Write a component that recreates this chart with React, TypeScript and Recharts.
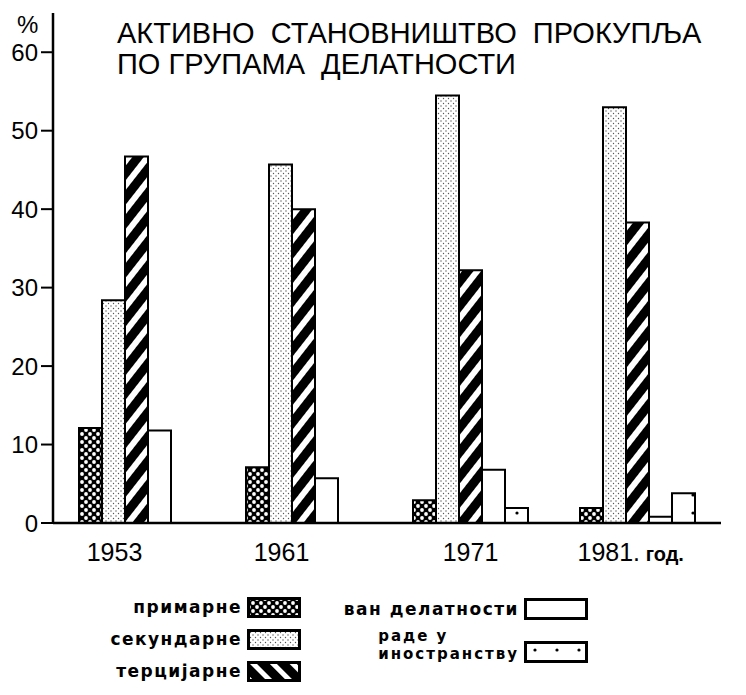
import React from "react";
import { BarChart, Bar, XAxis, YAxis } from "recharts";

// values (percent of active population)
const years = ["1953", "1961", "1971", "1981"];
const yearTickLabels = ["1953", "1961", "1971", "1981."];
const lastYearSuffix = "год.";
const primarne = [12.1, 7.1, 2.9, 1.9];
const sekundarne = [28.4, 45.7, 54.5, 53.0];
const tercijarne = [46.7, 40.0, 32.2, 38.3];
const vanDelatnosti = [11.8, 5.7, 6.8, 0.8];
const radeUInostranstvu: (number | null)[] = [null, null, 1.9, 3.8];
const yTicks = [0, 10, 20, 30, 40, 50, 60];
const seriesNames = [
  "примарне",
  "секундарне",
  "терцијарне",
  "ван делатности",
  "раде у иностранству",
];
const titleLines = ["АКТИВНО  СТАНОВНИШТВО  ПРОКУПЉА", "ПО ГРУПАМА  ДЕЛАТНОСТИ"];

const seriesKeys = ["primarne", "sekundarne", "tercijarne", "van", "rade"];
const seriesFills = [
  "url(#pat-prim)",
  "url(#pat-sek)",
  "url(#pat-ter)",
  "#ffffff",
  "url(#pat-rade)",
];
// the legend key for the tertiary sector has its stripes the other way
const legendFills = [
  "url(#pat-prim)",
  "url(#pat-sek)",
  "url(#pat-ter-legend)",
  "#ffffff",
  "url(#pat-rade)",
];

const chartData = years.map((year, i) => ({
  year,
  primarne: primarne[i],
  sekundarne: sekundarne[i],
  tercijarne: tercijarne[i],
  van: vanDelatnosti[i],
  rade: radeUInostranstvu[i],
}));

const FONT = "Liberation Sans, Arial, sans-serif";
const LEGEND_FONT = "DejaVu Sans, sans-serif";

function Patterns() {
  return (
    <svg width={0} height={0} style={{ position: "absolute" }}>
      <defs>
        <pattern id="pat-prim" width={8} height={8} patternUnits="userSpaceOnUse">
          <rect width={8} height={8} fill="#000" />
          <circle cx={2} cy={2} r={1.9} fill="#fff" />
          <circle cx={6} cy={6} r={1.9} fill="#fff" />
        </pattern>
        <pattern id="pat-sek" width={5} height={5} patternUnits="userSpaceOnUse">
          <rect width={5} height={5} fill="#fff" />
          <circle cx={1} cy={1} r={0.7} fill="#555" />
          <circle cx={3.5} cy={3.5} r={0.7} fill="#555" />
        </pattern>
        <pattern
          id="pat-ter"
          width={15}
          height={15}
          patternUnits="userSpaceOnUse"
          patternTransform="rotate(38)"
        >
          <rect width={15} height={15} fill="#000" />
          <rect width={6} height={15} fill="#fff" />
        </pattern>
        <pattern
          id="pat-ter-legend"
          width={14}
          height={14}
          patternUnits="userSpaceOnUse"
          patternTransform="rotate(-45)"
        >
          <rect width={14} height={14} fill="#000" />
          <rect width={5} height={14} fill="#fff" />
        </pattern>
        <pattern id="pat-rade" width={22} height={18} patternUnits="userSpaceOnUse">
          <rect width={22} height={18} fill="#fff" />
          <circle cx={11} cy={9} r={1.6} fill="#000" />
        </pattern>
      </defs>
    </svg>
  );
}

function YearTick(props: any) {
  const { x, y, payload } = props;
  const i = years.indexOf(payload.value);
  const label = yearTickLabels[i];
  if (i === years.length - 1) {
    return (
      <text x={x - 60} y={y + 30} textAnchor="start" fontFamily={FONT} fontSize={25} fill="#000">
        {label}
        <tspan fontSize={20} fontWeight={700}> {lastYearSuffix}</tspan>
      </text>
    );
  }
  // groups without the 5th series: the label sits under the four drawn bars
  const shift = radeUInostranstvu[i] == null ? -22 : 0;
  return (
    <text x={x + shift} y={y + 30} textAnchor="middle" fontFamily={FONT} fontSize={25} fill="#000">
      {label}
    </text>
  );
}

function Swatch({ fill, w, h }: { fill: string; w: number; h: number }) {
  return (
    <svg width={w} height={h} style={{ display: "block" }}>
      <rect x={1.5} y={1.5} width={w - 3} height={h - 3} fill={fill} stroke="#000" strokeWidth={3} />
    </svg>
  );
}

const legendText: React.CSSProperties = {
  fontFamily: LEGEND_FONT,
  fontWeight: 700,
  fontSize: 17,
  letterSpacing: 1.5,
  color: "#000",
  lineHeight: "19px",
  whiteSpace: "nowrap",
};

function LegendBlock() {
  const leftRows = [0, 1, 2];
  const leftTops = [597, 629, 661];
  const words = seriesNames[4].split(" ");
  const raLine1 = words.slice(0, 2).join(" ");
  const raLine2 = words.slice(2).join(" ");
  const twoLine = { ...legendText, fontSize: 15, lineHeight: "18px", letterSpacing: 2, display: "block" };
  return (
    <>
      {leftRows.map((s, k) => (
        <div
          key={s}
          style={{ position: "absolute", left: 60, top: leftTops[k], width: 241, display: "flex", justifyContent: "flex-end", alignItems: "center", gap: 5 }}
        >
          <span style={legendText}>{seriesNames[s]}</span>
          <Swatch fill={legendFills[s]} w={54} h={21} />
        </div>
      ))}
      <div
        style={{ position: "absolute", left: 330, top: 598, width: 258, display: "flex", justifyContent: "flex-end", alignItems: "center", gap: 5 }}
      >
        <span style={legendText}>{seriesNames[3]}</span>
        <Swatch fill={legendFills[3]} w={64} h={22} />
      </div>
      <div
        style={{ position: "absolute", left: 330, top: 627, width: 258, display: "flex", justifyContent: "flex-end", alignItems: "flex-end", gap: 5 }}
      >
        <div>
          <span style={twoLine}>{raLine1}</span>
          <span style={twoLine}>{raLine2}</span>
        </div>
        <Swatch fill={legendFills[4]} w={64} h={22} />
      </div>
    </>
  );
}

export default function App() {
  return (
    <div style={{ position: "absolute", left: 0, top: 0, width: 746, height: 695, background: "#fff" }}>
      <Patterns />
      <div style={{ position: "absolute", left: 17, top: 11, fontFamily: FONT, fontSize: 24, color: "#000" }}>%</div>
      <div
        style={{
          position: "absolute",
          left: 117,
          top: 18,
          fontFamily: FONT,
          fontSize: 29,
          lineHeight: "31px",
          letterSpacing: 0,
          color: "#000",
          whiteSpace: "pre",
        }}
      >
        {titleLines[0]}
        <br />
        {titleLines[1]}
      </div>
      <BarChart
        width={746}
        height={575}
        data={chartData}
        margin={{ top: 13, right: 25, bottom: 0, left: 0 }}
        barCategoryGap={26}
        barGap={0}
        style={{ position: "absolute", left: 0, top: 0 }}
      >
        <XAxis
          dataKey="year"
          interval={0}
          height={52}
          tickLine={false}
          axisLine={{ stroke: "#000", strokeWidth: 2.5 }}
          tick={<YearTick />}
        />
        <YAxis
          width={53}
          domain={[0, 65]}
          ticks={yTicks}
          allowDataOverflow
          tickSize={12}
          tickMargin={3}
          axisLine={{ stroke: "#000", strokeWidth: 2.5 }}
          tickLine={{ stroke: "#000", strokeWidth: 2 }}
          tick={{ fontSize: 24, fontFamily: FONT, fill: "#000" }}
        />
        {seriesKeys.map((key, i) => (
          <Bar
            key={key}
            dataKey={key}
            name={seriesNames[i]}
            fill={seriesFills[i]}
            stroke="#000"
            strokeWidth={2}
            isAnimationActive={false}
          />
        ))}
      </BarChart>
      <LegendBlock />
    </div>
  );
}
